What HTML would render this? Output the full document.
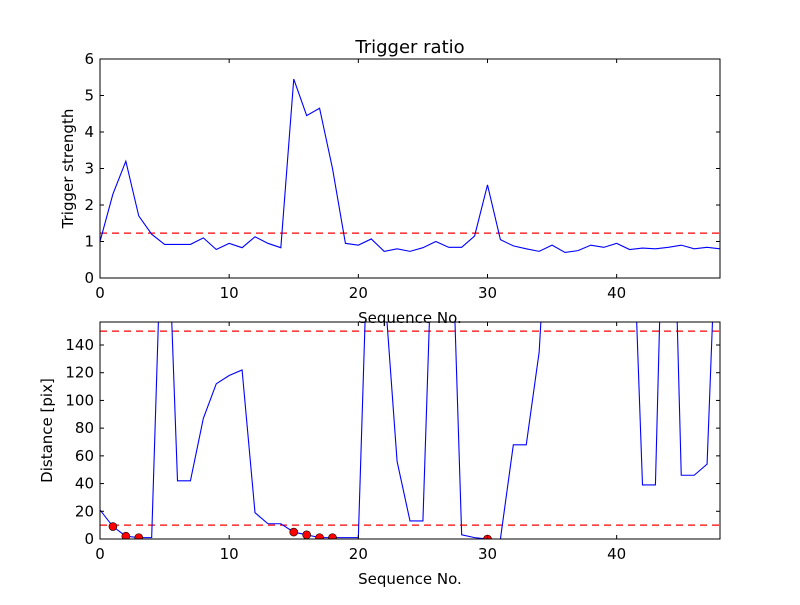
<!DOCTYPE html>
<html><head><meta charset="utf-8"><style>body{margin:0;background:#fff}svg{font-family:"DejaVu Sans","Liberation Sans",sans-serif}</style></head>
<body>
<svg id="c" width="800" height="600" xmlns="http://www.w3.org/2000/svg"></svg>
<script>
const seqTop = Array.from({length:49},(_, i)=>i);
const triggerValues = [1.0,2.3,3.2,1.7,1.2,0.92,0.92,0.92,1.1,0.78,0.95,0.83,1.13,0.95,0.83,5.45,4.45,4.65,3.0,0.95,0.9,1.07,0.73,0.8,0.73,0.83,1.0,0.84,0.84,1.15,2.55,1.05,0.88,0.8,0.73,0.9,0.7,0.75,0.9,0.84,0.95,0.78,0.82,0.8,0.84,0.9,0.8,0.84,0.8];
const triggerThreshold = 1.23;
const distanceValues = [21,9,2,1,1,300,42,42,87,112,118,122,19,11,11,5,3,1,1,1,1,300,185,56,13,13,300,300,3,1,0,0,68,68,135,300,300,300,300,300,300,300,39,39,400,46,46,54,300];
const markedIdx = [1,2,3,15,16,17,18,30];
const distThresholds = [10,150];
const topYTicks = [0,1,2,3,4,5,6];
const botYTicks = [0,20,40,60,80,100,120,140];
const xTicks = [0,10,20,30,40];

const svg = document.getElementById('c');
const NS = 'http://www.w3.org/2000/svg';
function mk(tag, attrs, parent){const e=document.createElementNS(NS,tag);for(const k in attrs)e.setAttribute(k,attrs[k]);(parent||svg).appendChild(e);return e;}
const X0=100,X1=720;
const xs = v => X0 + (v-0)/(48-0)*(X1-X0);
function panel(name, yTop, yBot, ymax, yticks, series, thresholds, yLabel, ylx, title, dots){
  const ys = v => yBot - v/ymax*(yBot-yTop);
  const g = mk('g',{});
  
  
  const cid='clip-'+name;
  const cp=mk('clipPath',{id:cid},g); mk('rect',{x:X0,y:yTop,width:X1-X0,height:yBot-yTop},cp);
  const pg = mk('g',{'clip-path':'url(#'+cid+')'},g);
  thresholds.forEach(t=>{
    const l=mk('line',{x1:X0,x2:X1,y1:ys(t),y2:ys(t),stroke:'#ff0000','stroke-width':1.2,'stroke-dasharray':'7,5'},pg);
    
    
  });
  const p=mk('polyline',{points:series.map((v,i)=>xs(seqTop[i])+','+ys(v)).join(' '),fill:'none',stroke:'#0000ff','stroke-width':1.1},pg);
  
  
  if(dots) dots.forEach(i=>{
    const c=mk('circle',{cx:xs(seqTop[i]),cy:ys(series[i]),r:4,fill:'#ff0000',stroke:'#000','stroke-width':0.6},pg);
    
    
  });
  mk('rect',{x:X0,y:yTop,width:X1-X0,height:yBot-yTop,fill:'none',stroke:'#000','stroke-width':1},g);
  yticks.forEach(t=>{
    const y=ys(t);
    mk('line',{x1:X0,x2:X0+4,y1:y,y2:y,stroke:'#000'},g);
    mk('line',{x1:X1,x2:X1-4,y1:y,y2:y,stroke:'#000'},g);
    const tx=mk('text',{x:X0-6,y:y+5,'text-anchor':'end','font-size':15},g);tx.textContent=t;
    
    
  });
  xTicks.forEach(t=>{
    const x=xs(t);
    mk('line',{x1:x,x2:x,y1:yBot,y2:yBot-4,stroke:'#000'},g);
    mk('line',{x1:x,x2:x,y1:yTop,y2:yTop+4,stroke:'#000'},g);
    const tx=mk('text',{x:x,y:yBot+20,'text-anchor':'middle','font-size':15},g);tx.textContent=t;
    
    
  });
  const xl=mk('text',{x:410,y:yBot+45,'text-anchor':'middle','font-size':15},g);xl.textContent='Sequence No.';
  
  
  const yl=mk('text',{x:0,y:0,'text-anchor':'middle','font-size':15,transform:'translate('+ylx+','+((yTop+yBot)/2)+') rotate(-90)'},g);yl.textContent=yLabel;
  
  
  if(title){const tt=mk('text',{x:410,y:yTop-6,'text-anchor':'middle','font-size':18},g);tt.textContent=title;
    
    }
}
panel('trigger-panel',59,278,6,topYTicks,triggerValues,[triggerThreshold],'Trigger strength',73,'Trigger ratio',null);
panel('distance-panel',322,539,156.6,botYTicks,distanceValues,distThresholds,'Distance [pix]',52,null,markedIdx);
</script>
</body></html>
